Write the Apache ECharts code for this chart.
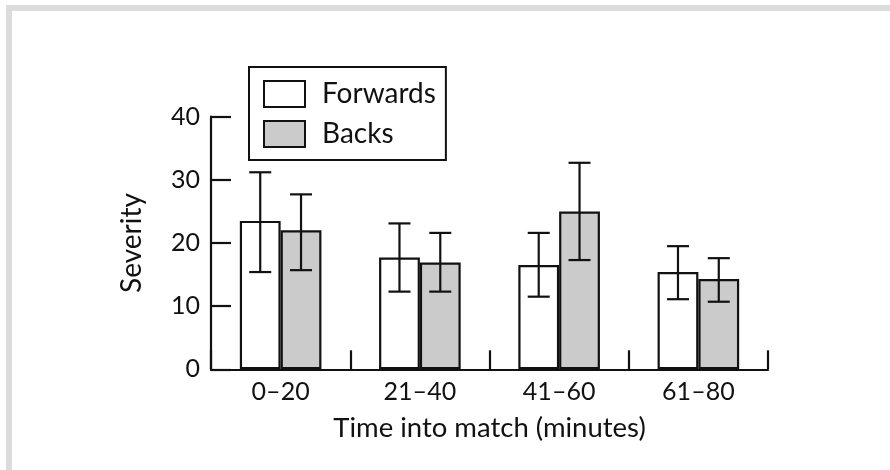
<!DOCTYPE html>
<html>
<head>
<meta charset="utf-8">
<script src="https://cdn.jsdelivr.net/npm/echarts@6/dist/echarts.min.js"></script>
<style>
html,body{margin:0;padding:0;background:#fff;}
#c{width:890px;height:470px;}
</style>
</head>
<body>
<div id="c"></div>
<script>
const categories = ['0–20', '21–40', '41–60', '61–80'];
const forwards = [23.5, 17.7, 16.5, 15.4];
const forwardsLow = [15.4, 12.3, 11.5, 11.1];
const forwardsHigh = [31.2, 23.1, 21.6, 19.5];
const backs = [22.0, 16.9, 25.0, 14.3];
const backsLow = [15.7, 12.3, 17.3, 10.7];
const backsHigh = [27.7, 21.6, 32.7, 17.6];
const yTicks = [0, 10, 20, 30, 40];

const BAR_FRAC = 0.293;
const INK = '#111111';
const FONT = 'Lato';

function errData(lo, hi) {
  return categories.map((c, i) => [i, lo[i], hi[i]]);
}
function errRender(sign) {
  return function (params, api) {
    const x = api.value(0);
    const pLo = api.coord([x, api.value(1)]);
    const pHi = api.coord([x, api.value(2)]);
    const band = api.size([1, 0])[0];
    const cx = pHi[0] + sign * band * BAR_FRAC / 2;
    const cap = 11;
    const st = { stroke: INK, lineWidth: 2.2 };
    return {
      type: 'group',
      children: [
        { type: 'line', shape: { x1: cx, y1: pLo[1], x2: cx, y2: pHi[1] }, style: st },
        { type: 'line', shape: { x1: cx - cap, y1: pHi[1], x2: cx + cap, y2: pHi[1] }, style: st },
        { type: 'line', shape: { x1: cx - cap, y1: pLo[1], x2: cx + cap, y2: pLo[1] }, style: st }
      ]
    };
  };
}

const chart = echarts.init(document.getElementById('c'), null, { renderer: 'canvas' });
chart.setOption({
  animation: false,
  backgroundColor: '#ffffff',
  graphic: [
    { type: 'rect', shape: { x: 6, y: 5, width: 884, height: 6 }, style: { fill: '#dcdcdc' }, silent: true },
    { type: 'rect', shape: { x: 6, y: 5, width: 6, height: 465 }, style: { fill: '#dcdcdc' }, silent: true }
  ],
  legend: {
    orient: 'vertical',
    left: 249,
    top: 67,
    padding: [13, 10, 12, 14],
    borderColor: INK,
    borderWidth: 2,
    itemWidth: 41,
    itemHeight: 26,
    itemGap: 12,
    icon: 'rect',
    textStyle: { fontFamily: FONT, fontSize: 28, lineHeight: 26, color: INK, padding: [0, 0, 0, 12] },
    data: ['Forwards', 'Backs']
  },
  grid: { left: 211, right: 122, top: 116.7, bottom: 100.7, containLabel: false },
  xAxis: {
    type: 'category',
    data: categories,
    boundaryGap: true,
    name: 'Time into match (minutes)',
    nameLocation: 'middle',
    nameGap: 45,
    nameTextStyle: { fontFamily: FONT, fontSize: 27.5, color: INK },
    axisLine: { lineStyle: { color: INK, width: 2.2 } },
    axisTick: { show: true, inside: true, length: 19, alignWithLabel: false, lineStyle: { color: INK, width: 2.2 } },
    axisLabel: { fontFamily: FONT, fontSize: 25, color: INK, margin: 10 },
    splitLine: { show: false }
  },
  yAxis: {
    type: 'value',
    min: yTicks[0],
    max: yTicks[yTicks.length - 1],
    interval: 10,
    name: 'Severity',
    nameLocation: 'middle',
    nameGap: 65,
    nameTextStyle: { fontFamily: FONT, fontSize: 28, color: INK },
    axisLine: { show: true, lineStyle: { color: INK, width: 2.2 } },
    axisTick: { show: true, inside: true, length: 20, lineStyle: { color: INK, width: 2.2 } },
    axisLabel: { fontFamily: FONT, fontSize: 25, color: INK, margin: 11 },
    splitLine: { show: false }
  },
  series: [
    {
      name: 'Forwards', type: 'bar', data: forwards,
      barWidth: (BAR_FRAC * 100) + '%', barGap: '0%',
      itemStyle: { color: '#ffffff', borderColor: INK, borderWidth: 2.2 }, z: 2
    },
    {
      name: 'Backs', type: 'bar', data: backs,
      barWidth: (BAR_FRAC * 100) + '%', barGap: '0%',
      itemStyle: { color: '#cbcbcb', borderColor: INK, borderWidth: 2.2 }, z: 2
    },
    {
      name: 'fwdErr', type: 'custom', data: errData(forwardsLow, forwardsHigh),
      encode: { x: 0, y: [1, 2] }, renderItem: errRender(-1), z: 5, silent: true
    },
    {
      name: 'backErr', type: 'custom', data: errData(backsLow, backsHigh),
      encode: { x: 0, y: [1, 2] }, renderItem: errRender(1), z: 5, silent: true
    }
  ]
});
</script>
</body>
</html>
